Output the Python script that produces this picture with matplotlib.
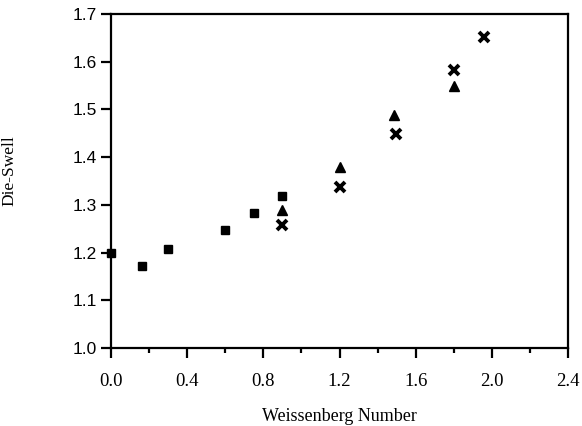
import matplotlib
matplotlib.use("Agg")
import matplotlib.pyplot as plt
from matplotlib.ticker import MultipleLocator

# data
circ_x = [0.0, 0.165, 0.30, 0.60, 0.75, 0.90]
circ_y = [1.20, 1.172, 1.207, 1.247, 1.284, 1.318]

tri_x = [0.90, 1.20, 1.486, 1.80]
tri_y = [1.29, 1.379, 1.488, 1.549]

cross_x = [0.90, 1.20, 1.497, 1.80, 1.96]
cross_y = [1.258, 1.338, 1.449, 1.582, 1.651]

serif = "Liberation Serif"
sans = "Liberation Sans"

fig = plt.figure(figsize=(5.82, 4.26), dpi=100)
ax = fig.add_axes([0.1907, 0.183, 0.7853, 0.784])

ax.plot(circ_x, circ_y, 's', color='black', markersize=5.5, clip_on=False)
ax.plot(tri_x, tri_y, '^', color='black', markersize=7.5)
ax.plot(cross_x, cross_y, 'x', color='black', markersize=7, markeredgewidth=2.8)

ax.set_xlim(0, 2.4)
ax.set_ylim(1.0, 1.7)
ax.xaxis.set_major_locator(MultipleLocator(0.4))
ax.xaxis.set_minor_locator(MultipleLocator(0.2))
ax.yaxis.set_major_locator(MultipleLocator(0.1))
ax.xaxis.set_major_formatter(plt.FuncFormatter(lambda v, p: f"{v:.1f}"))
ax.yaxis.set_major_formatter(plt.FuncFormatter(lambda v, p: f"{v:.1f}"))

for s in ax.spines.values():
    s.set_linewidth(1.6)

ax.tick_params(axis='both', which='major', direction='out', length=7, width=1.6)
ax.tick_params(axis='x', which='minor', direction='out', length=3.5, width=1.6)
ax.tick_params(axis='x', pad=11)
ax.tick_params(axis='y', pad=3)

for lab in ax.get_xticklabels():
    lab.set_fontfamily(serif)
    lab.set_fontsize(13.5)
for lab in ax.get_yticklabels():
    lab.set_fontfamily(sans)
    lab.set_fontsize(12.5)

ax.set_xlabel('Weissenberg Number', fontfamily=serif, fontsize=13, labelpad=13)
ax.set_ylabel('Die-Swell', fontfamily=serif, fontsize=12.5)
ax.yaxis.set_label_coords(-0.205, 0.53)

fig.savefig('out.png', dpi=100)
